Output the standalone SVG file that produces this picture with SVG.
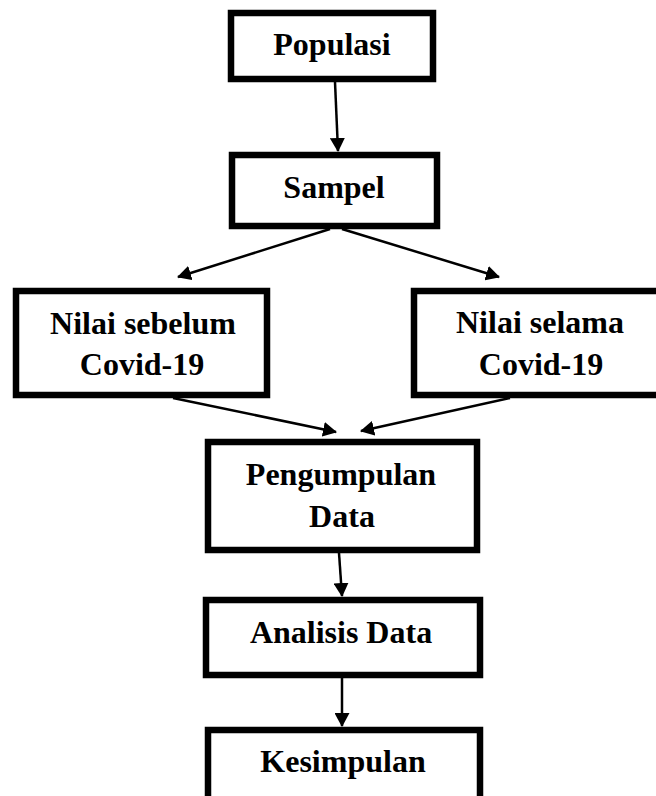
<svg xmlns="http://www.w3.org/2000/svg" width="656" height="796" viewBox="0 0 656 796">
<style>
.box{fill:#fff;stroke:#000;stroke-width:6.5}
.t{font-family:"Liberation Serif","Times New Roman",serif;font-weight:bold;font-size:32px;text-anchor:middle;fill:#000}
.c{stroke:#000;stroke-width:2.5;fill:none;marker-end:url(#ah)}
</style>
<defs>
<marker id="ah" markerUnits="userSpaceOnUse" markerWidth="15" markerHeight="15" refX="13" refY="7.5" orient="auto">
<path d="M0,0 L14,7.5 L0,15 z" fill="#000"/>
</marker>
</defs>
<rect width="656" height="796" fill="#fff"/>
<g id="connectors">
<line class="c" x1="335" y1="82" x2="338" y2="151"/>
<line class="c" x1="330" y1="229" x2="178" y2="277"/>
<line class="c" x1="342" y1="229" x2="499" y2="277"/>
<line class="c" x1="173" y1="398" x2="336" y2="432"/>
<line class="c" x1="510" y1="398" x2="361" y2="431"/>
<line class="c" x1="339" y1="553" x2="342" y2="596"/>
<line class="c" x1="342" y1="678" x2="342" y2="726"/>
</g>
<g id="populasi">
<rect class="box" x="231" y="13" width="202" height="66"/>
<text class="t" x="332" y="55">Populasi</text>
</g>
<g id="sampel">
<rect class="box" x="232" y="155" width="205" height="71"/>
<text class="t" x="334" y="198">Sampel</text>
</g>
<g id="nilai-sebelum">
<rect class="box" x="16" y="291" width="251" height="104"/>
<text class="t" x="143" y="334">Nilai sebelum</text>
<text class="t" x="142" y="375">Covid-19</text>
</g>
<g id="nilai-selama">
<rect class="box" x="414" y="291" width="260" height="104"/>
<text class="t" x="540" y="333">Nilai selama</text>
<text class="t" x="541" y="375">Covid-19</text>
</g>
<g id="pengumpulan">
<rect class="box" x="208" y="442" width="269" height="108"/>
<text class="t" x="341" y="485">Pengumpulan</text>
<text class="t" x="342" y="527">Data</text>
</g>
<g id="analisis">
<rect class="box" x="206" y="600" width="274" height="75"/>
<text class="t" x="341" y="643">Analisis Data</text>
</g>
<g id="kesimpulan">
<rect class="box" x="208" y="730" width="272" height="100"/>
<text class="t" x="343" y="772">Kesimpulan</text>
</g>
</svg>
